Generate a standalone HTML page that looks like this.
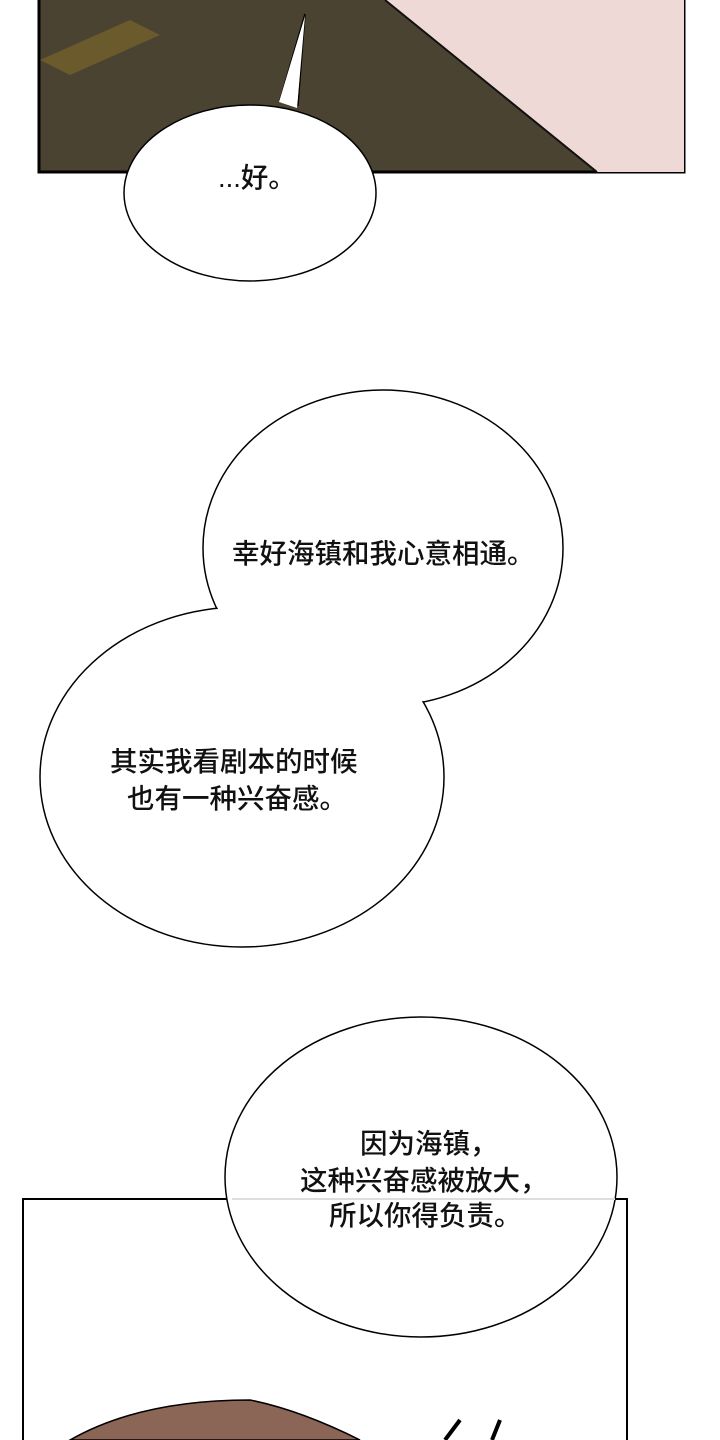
<!DOCTYPE html>
<html><head><meta charset="utf-8"><style>
body{margin:0;width:720px;height:1440px;overflow:hidden;background:#fff}
svg{display:block}
text{font-family:"Liberation Sans","Noto Sans CJK SC",sans-serif;font-size:27.5px;font-weight:500;fill:#111}
</style></head><body>
<svg width="720" height="1440" viewBox="0 0 720 1440">
<rect x="39" y="-3" width="645" height="175" fill="#4b4332" stroke="#000" stroke-width="3"/>
<polygon points="40,60 130,20 160,35 70,75" fill="#6a5a2c"/>
<polygon points="385,0 684,0 684,172 597,172" fill="#efd9d6"/>
<line x1="385" y1="0" x2="597" y2="172" stroke="#111" stroke-width="2"/>
<polygon points="280,100 305,14 298,105" fill="#fff" stroke="#000" stroke-width="1.5"/>
<ellipse cx="250" cy="193" rx="126" ry="88" fill="#fff" stroke="#000" stroke-width="1.5"/>
<polygon points="279,102 305,16 297,108" fill="#fff"/>
<text x="218" y="187">...好。</text>
<ellipse cx="383" cy="548" rx="180" ry="158" fill="#fff" stroke="#000" stroke-width="1.5"/>
<ellipse cx="242" cy="777" rx="202" ry="170" fill="#fff" stroke="#000" stroke-width="1.5"/>
<ellipse cx="383" cy="548" rx="179" ry="157" fill="#fff"/>
<ellipse cx="242" cy="777" rx="201" ry="169" fill="#fff"/>
<text x="232" y="563">幸好海镇和我心意相通。</text>
<text x="110" y="771">其实我看剧本的时候</text>
<text x="127" y="808">也有一种兴奋感。</text>
<rect x="23" y="1199" width="604" height="260" fill="#fff" stroke="#000" stroke-width="2"/>
<path d="M70,1440 Q140,1400 250,1400 Q300,1410 360,1440 Z" fill="#8b6555" stroke="#000" stroke-width="1.5"/>
<path d="M445,1440 L460,1420 M500,1420 L492,1440" stroke="#000" stroke-width="4"/>
<ellipse cx="421" cy="1177" rx="196" ry="160" fill="#fff" stroke="#000" stroke-width="1.5"/>
<line x1="232" y1="1199" x2="615" y2="1199" stroke="#ddd" stroke-width="2"/>
<text x="360" y="1153">因为海镇，</text>
<text x="300" y="1190">这种兴奋感被放大，</text>
<text x="329" y="1225">所以你得负责。</text>
</svg>
</body></html>
